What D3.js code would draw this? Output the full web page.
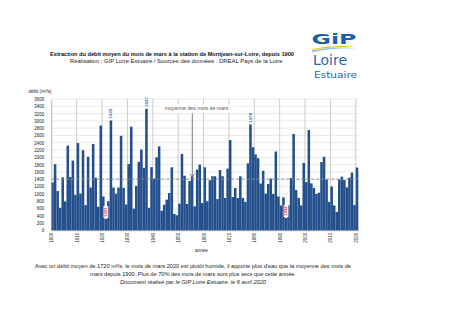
<!DOCTYPE html>
<html><head><meta charset="utf-8">
<script src="https://cdn.jsdelivr.net/npm/d3@7"></script>
<style>body{margin:0;background:#fff} svg{display:block}</style>
</head><body>
<svg id="chart" width="457" height="323"></svg>
<script>
// Débit moyen de mars (m3/s) à Montjean-sur-Loire, 1900-2020
const years = d3.range(1900, 2021);
const debitMars = [
  1310, 1810, 1075, 615, 1450, 790, 2320, 1460, 1910, 970,   // 1900
  2390, 1005, 2195, 690, 2015, 1170, 2365, 1440, 645, 2870,  // 1910
  925, 310, 795, 3010, 1170, 1000, 1170, 2590, 1165, 705,    // 1920
  1815, 2840, 590, 1215, 1875, 2215, 1710, 3330, 615, 1730,  // 1930
  1415, 2000, 2300, 535, 700, 840, 1020, 1725, 445, 410,     // 1940
  730, 2090, 1495, 720, 1350, 1480, 655, 1660, 1800, 745,    // 1950
  1725, 790, 1370, 1480, 1480, 855, 1650, 1480, 885, 1690,   // 1960
  2475, 910, 1160, 885, 1480, 885, 775, 1835, 2900, 2275,    // 1970
  2080, 1975, 1280, 1630, 1000, 1270, 1415, 995, 2160, 925,  // 1980
  680, 900, 335, 680, 1435, 2640, 1100, 885, 680, 1845,      // 1990
  1320, 2750, 1285, 1160, 995, 1030, 1870, 2015, 1395, 775,  // 2000
  1200, 680, 500, 1390, 1470, 1375, 1175, 1440, 1580, 690,   // 2010
  1720                                                       // 2020
];
const yTicks = d3.range(0, 3601, 200);
const decades = d3.range(1900, 2021, 10);
const moyenneMars = 1400;
const anneesRemarquables = [
  {year: 1921, type: "min"},
  {year: 1923, type: "max"},
  {year: 1937, type: "max"},
  {year: 1978, type: "max"},
  {year: 1992, type: "min"}
];

const FONT = "'Liberation Sans Narrow','Liberation Sans',Arial,sans-serif";
const svg = d3.select("#chart").style("font-family", FONT);

const plotL = 51.3, plotR = 358.3, plotT = 99, plotB = 230.2;
const x = d3.scaleLinear().domain([1900, 2021]).range([plotL, plotR]);
const y = d3.scaleLinear().domain([0, 3600]).range([plotB, plotT]);
const bw = x(1901) - x(1900);

// horizontal grid
svg.append("g").selectAll("line").data(yTicks).join("line")
  .attr("x1", plotL).attr("x2", plotR)
  .attr("y1", d => y(d)).attr("y2", d => y(d))
  .attr("stroke", "#dcdcdc").attr("stroke-width", 0.6);

// vertical grid at each decade
svg.append("g").selectAll("line").data(decades.slice(1)).join("line")
  .attr("x1", d => x(d)).attr("x2", d => x(d))
  .attr("y1", y(3600)).attr("y2", y(0))
  .attr("stroke", "#b8b8b8").attr("stroke-width", 0.7);

// bars
svg.append("g").selectAll("rect").data(years).join("rect")
  .attr("x", d => x(d)).attr("width", bw)
  .attr("y", (d, i) => y(debitMars[i]))
  .attr("height", (d, i) => y(0) - y(debitMars[i]))
  .attr("fill", "#234f8c");

// mean line
svg.append("line")
  .attr("x1", plotL).attr("x2", plotR)
  .attr("y1", y(moyenneMars)).attr("y2", y(moyenneMars))
  .attr("stroke", "#8a8a8a").attr("stroke-width", 0.9)
  .attr("stroke-dasharray", "3,2");

// axes
const yAxis = svg.append("g").attr("transform", `translate(${plotL},0)`)
  .call(d3.axisLeft(y).tickValues(yTicks).tickFormat(d3.format("d")).tickSize(0).tickPadding(7));
yAxis.select(".domain").attr("stroke", "#9a9a9a").attr("stroke-width", 0.7);
yAxis.selectAll("text").attr("font-size", 4.5).attr("fill", "#222").style("font-family", FONT);

const xAxis = svg.append("g").attr("transform", `translate(0,${plotB})`)
  .call(d3.axisBottom(x).tickValues(decades).tickFormat(d3.format("d")).tickSize(0));
xAxis.select(".domain").attr("stroke", "#7a7a7a").attr("stroke-width", 0.7);
xAxis.selectAll("text")
  .attr("font-size", 4.5).attr("fill", "#222").style("font-family", FONT)
  .attr("transform", "rotate(-90)")
  .attr("x", -2.5).attr("y", 0).attr("dy", "0.33em")
  .style("text-anchor", "end");

// axis titles
svg.append("text").attr("x", 40).attr("y", 92.5).attr("text-anchor", "middle")
  .attr("font-size", 4.6).attr("fill", "#222")
  .text("débit (m³/s)");
svg.append("text").attr("x", 201.5).attr("y", 252.3).attr("text-anchor", "middle")
  .attr("font-size", 4.6).attr("fill", "#222")
  .text("année");

// labels on remarkable years
anneesRemarquables.forEach(a => {
  const v = debitMars[years.indexOf(a.year)];
  const g = svg.append("g")
    .attr("transform", `translate(${x(a.year) + bw / 2},${y(v) - 1})rotate(-90)`);
  const t = g.append("text").attr("x", 1).attr("y", 0).attr("dy", "0.34em")
    .attr("font-size", 4.4).attr("font-weight", "bold")
    .attr("fill", a.type === "min" ? "#e0202a" : "#2b5fb6")
    .text(a.year);
  const len = t.node().getComputedTextLength();
  g.insert("rect", "text").attr("x", 0).attr("y", -2.4).attr("width", len + 2).attr("height", 4.8)
    .attr("fill", "#fff");
});

// mean annotation
const noteX = 192.3;
svg.append("rect").attr("x", 160).attr("y", 104.5).attr("width", 73).attr("height", 8.5).attr("fill", "#fff");
svg.append("text").attr("x", 196.5).attr("y", 110.3).attr("text-anchor", "middle")
  .attr("font-size", 5.2).attr("fill", "#555")
  .text("moyenne des mois de mars");
svg.append("line").attr("x1", noteX).attr("x2", noteX)
  .attr("y1", 113.5).attr("y2", y(moyenneMars) - 2.5)
  .attr("stroke", "#6f6f6f").attr("stroke-width", 0.9);
svg.append("path")
  .attr("d", `M${noteX - 2.2},${y(moyenneMars) - 5.5}L${noteX},${y(moyenneMars) - 1.5}L${noteX + 2.2},${y(moyenneMars) - 5.5}`)
  .attr("fill", "none").attr("stroke", "#6f6f6f").attr("stroke-width", 0.9);

// titles
svg.append("text").attr("x", 50).attr("y", 56)
  .attr("font-size", 5.8).attr("font-weight", "bold").attr("fill", "#111")
  .attr("textLength", 244).attr("lengthAdjust", "spacingAndGlyphs")
  .text("Extraction du débit moyen du mois de mars à la station de Montjean-sur-Loire, depuis 1900");
svg.append("text").attr("x", 70).attr("y", 63.3)
  .attr("font-size", 5.6).attr("fill", "#222")
  .attr("textLength", 212.5).attr("lengthAdjust", "spacingAndGlyphs")
  .text("Réalisation : GIP Loire Estuaire / Sources des données : DREAL Pays de la Loire");

// footer
svg.append("text").attr("x", 35).attr("y", 268)
  .attr("font-size", 5.6).attr("fill", "#222")
  .attr("textLength", 316).attr("lengthAdjust", "spacingAndGlyphs")
  .text("Avec un débit moyen de 1720 m³/s, le mois de mars 2020 est plutôt humide, il apporte plus d'eau que la moyenne des mois de");
svg.append("text").attr("x", 90).attr("y", 276)
  .attr("font-size", 5.6).attr("fill", "#222")
  .attr("textLength", 206).attr("lengthAdjust", "spacingAndGlyphs")
  .text("mars depuis 1900. Plus de 70% des mois de mars sont plus secs que cette année.");
svg.append("text").attr("x", 120).attr("y", 284)
  .attr("font-size", 5.6).attr("font-style", "italic").attr("fill", "#222")
  .attr("textLength", 146).attr("lengthAdjust", "spacingAndGlyphs")
  .text("Document réalisé par le GIP Loire Estuaire, le 6 avril 2020");

// logo
const logo = svg.append("g").style("font-family", "'DejaVu Sans',Verdana,sans-serif");
const grad = svg.append("defs").append("linearGradient").attr("id", "swoosh");
grad.append("stop").attr("offset", "0%").attr("stop-color", "#f6d23a");
grad.append("stop").attr("offset", "100%").attr("stop-color", "#ef8a1c");
logo.append("text").attr("x", 311.5).attr("y", 44).attr("font-size", 14).attr("font-weight", "bold")
  .attr("fill", "#1f5ea9").attr("textLength", 45).attr("lengthAdjust", "spacingAndGlyphs").text("GiP");
logo.append("path").attr("d", "M312,50.5 Q334,45.5 357,48.5 Q334,47.5 312,52.5Z").attr("fill", "#8cc6ea");
logo.append("path").attr("d", "M312,49 Q334,44.5 357,47 Q334,46 312,50.5Z").attr("fill", "url(#swoosh)");
logo.append("text").attr("x", 313).attr("y", 65.3).attr("font-size", 13.5)
  .attr("fill", "#2b64ad").attr("textLength", 34).attr("lengthAdjust", "spacingAndGlyphs").text("Loire");
logo.append("text").attr("x", 314).attr("y", 77.5).attr("font-size", 9)
  .attr("fill", "#2b64ad").attr("textLength", 43).attr("lengthAdjust", "spacingAndGlyphs").text("Estuaire");
</script>
</body></html>
